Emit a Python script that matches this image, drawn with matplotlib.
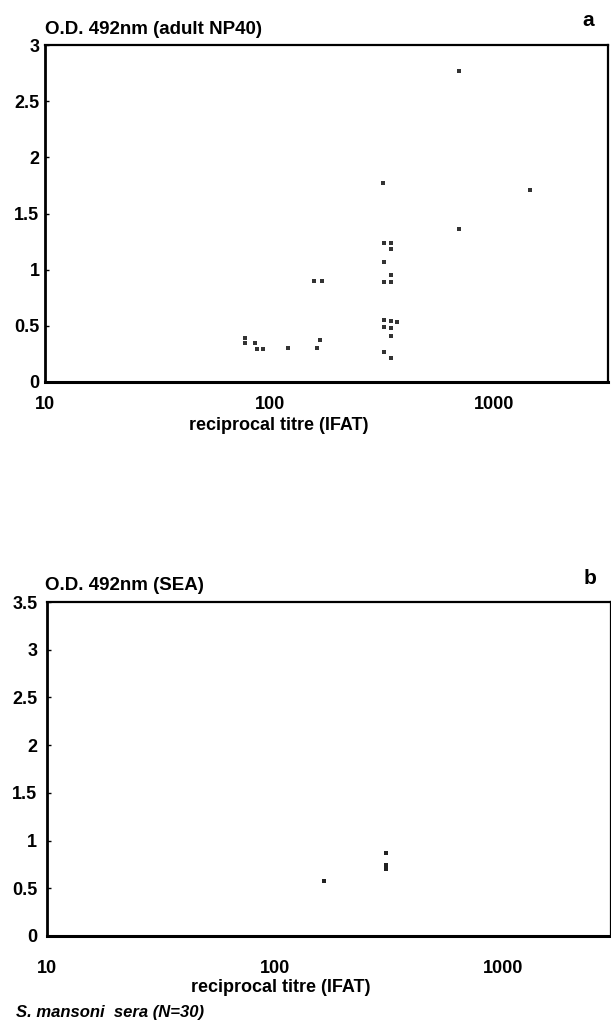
import numpy as np
import matplotlib
matplotlib.use('Agg')
import matplotlib.pyplot as plt
from matplotlib.ticker import FixedLocator, FixedFormatter, NullLocator

plt.rcParams['font.family'] = ['Liberation Sans', 'DejaVu Sans']

# panel a: adult NP40 ELISA vs IFAT titre
titre_a = [78, 78, 86, 88, 93, 120, 163, 167, 158, 170,
           318, 321, 345, 345, 321, 345, 321, 345, 321, 345,
           367, 321, 345, 345, 321, 345, 698, 698, 1432]
od_a = [0.39, 0.35, 0.35, 0.29, 0.29, 0.30, 0.30, 0.37, 0.90, 0.90,
        1.77, 1.24, 1.24, 1.18, 1.07, 0.95, 0.89, 0.89, 0.55, 0.54,
        0.53, 0.49, 0.48, 0.41, 0.27, 0.21, 2.77, 1.36, 1.71]

# panel b: SEA ELISA vs IFAT titre
titre_b = [307, 307, 307, 164]
od_b = [0.87, 0.74, 0.70, 0.58]

yticks_a = [0, 0.5, 1, 1.5, 2, 2.5, 3]
ylabels_a = ['0', '0.5', '1', '1.5', '2', '2.5', '3']
yticks_b = [0, 0.5, 1, 1.5, 2, 2.5, 3, 3.5]
ylabels_b = ['0', '0.5', '1', '1.5', '2', '2.5', '3', '3.5']
xticks = [10, 100, 1000]
xlabels = ['10', '100', '1000']

W, H = 611, 1025
fig = plt.figure(figsize=(W / 100, H / 100), dpi=100)


def px_axes(l, t, r, b):
    # pixel box -> figure fraction
    return fig.add_axes([l / W, 1 - b / H, (r - l) / W, (b - t) / H])


def style(ax, ymax, yt, yl, xmax, xpad, ypad, lab_x, lab_y):
    ax.set_xscale('log')
    ax.set_xlim(10, xmax)
    ax.set_ylim(0, ymax)
    ax.xaxis.set_major_locator(FixedLocator(xticks))
    ax.xaxis.set_major_formatter(FixedFormatter(xlabels))
    ax.xaxis.set_minor_locator(NullLocator())
    ax.set_yticks(yt)
    ax.set_yticklabels(yl)
    ax.tick_params(axis='y', direction='in', length=3, width=1, pad=ypad,
                   labelsize=13)
    ax.tick_params(axis='x', length=0, pad=xpad, labelsize=13)
    for lab in ax.get_xticklabels() + ax.get_yticklabels():
        lab.set_fontweight('bold')
    ax.spines['left'].set_linewidth(2)
    ax.spines['bottom'].set_linewidth(2.2)
    ax.spines['top'].set_linewidth(1.6)
    ax.spines['right'].set_linewidth(1.6)
    ax.set_xlabel('reciprocal titre (IFAT)', fontsize=13, fontweight='bold')
    # label sits left of the axes centre in the original
    ax.xaxis.set_label_coords(lab_x, lab_y)


ax1 = px_axes(45, 45, 608, 382)
ax1.scatter(titre_a, od_a, s=7, c='#333333', marker='s', linewidths=0)
style(ax1, 3, yticks_a, ylabels_a, 3200, 10, 4,
      (279 - 45) / 563, -(425 - 382) / 337)
ax1.xaxis.label.set_va('center')
fig.text(45 / W, 1 - 30 / H, 'O.D. 492nm (adult NP40)', fontsize=13.5,
         fontweight='bold', va='center', ha='left')
fig.text(588 / W, 1 - 20 / H, 'a', fontsize=15, fontweight='bold',
         va='center', ha='center')

ax2 = px_axes(47, 602, 611, 936)
ax2.scatter(titre_b, od_b, s=8, c='#222222', marker='s', linewidths=0)
style(ax2, 3.5, yticks_b, ylabels_b, 2960, 17, 7,
      (281 - 47) / 564, -(988 - 936) / 334)
ax2.xaxis.label.set_va('center')
fig.text(45 / W, 1 - 586 / H, 'O.D. 492nm (SEA)', fontsize=13.5,
         fontweight='bold', va='center', ha='left')
fig.text(590 / W, 1 - 578 / H, 'b', fontsize=15, fontweight='bold',
         va='center', ha='center')

fig.text(16 / W, 1 - 1013 / H, 'S. mansoni  sera (N=30)', fontsize=12,
         fontweight='bold', fontstyle='italic', va='center', ha='left')

fig.savefig('out.png', dpi=100)
